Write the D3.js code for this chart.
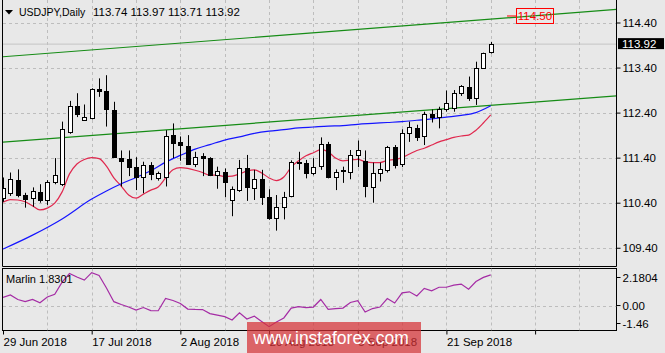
<!DOCTYPE html>
<html>
<head>
<meta charset="utf-8">
<script src="https://cdn.jsdelivr.net/npm/d3@7"></script>
<style>
body { margin: 0; background: #e8e8e8; }
svg { display: block; font-family: "Liberation Sans", Arial, sans-serif; }
</style>
</head>
<body>
<svg id="chart" width="665" height="353"></svg>
<script>
var symbol = 'USDJPY,Daily';
var lastQuote = [113.74, 113.97, 113.71, 113.92];

// daily bars, 29 Jun 2018 .. 1 Oct 2018
var opens  = [110.51,110.62,110.90,110.57,110.50,110.64,110.46,110.85,110.82,111.98,112.55,112.23,112.28,112.92,112.89,112.46,111.39,111.37,111.20,110.96,111.24,110.94,110.96,111.90,111.74,111.66,111.25,111.44,111.39,111.01,111.09,110.46,110.68,111.16,110.72,110.92,110.52,110.05,110.30,110.55,111.28,111.29,111.07,111.21,111.70,110.98,111.10,111.09,111.46,111.32,110.74,111.07,111.13,111.64,111.26,111.94,112.05,111.88,112.37,112.30,112.47,112.50,112.83,112.96,112.72,113.38,113.74];
var highs  = [110.96,111.07,111.14,110.62,110.74,110.81,110.90,111.39,112.20,112.66,112.83,112.58,112.94,113.16,113.23,112.64,111.56,111.56,111.41,111.31,111.30,111.09,112.01,112.16,111.87,111.90,111.53,111.50,111.41,111.20,111.16,110.76,111.35,111.46,111.13,111.13,110.70,110.57,110.64,111.34,111.53,111.35,111.39,111.85,111.75,111.14,111.20,111.57,111.78,111.56,111.29,111.29,111.66,111.68,112.03,112.20,112.13,112.42,112.47,112.53,112.89,112.90,113.01,113.20,113.53,113.73,113.97];
var lows   = [110.42,110.55,110.52,110.29,110.31,110.40,110.35,110.81,110.77,111.93,112.30,112.22,112.25,112.75,112.09,111.41,110.76,110.99,110.68,110.61,110.90,110.89,110.76,111.39,111.33,111.24,111.19,110.99,110.99,110.71,110.52,110.10,110.64,110.44,110.46,110.35,110.02,109.78,110.03,110.52,111.13,110.94,111.01,111.13,110.94,110.68,110.84,110.92,111.19,110.52,110.40,110.87,111.07,111.16,111.19,111.75,111.77,111.68,112.18,112.05,112.42,112.42,112.77,112.66,112.57,113.37,113.71];
var closes = [110.73,110.92,110.57,110.48,110.67,110.46,110.87,111.01,112.03,112.55,112.37,112.31,112.92,112.88,112.47,111.42,111.33,111.19,110.98,111.24,111.04,111.05,111.88,111.73,111.67,111.27,111.41,111.39,111.01,111.10,110.87,110.71,111.16,110.74,110.92,110.52,110.05,110.31,110.53,111.31,111.30,111.07,111.20,111.70,110.98,111.09,111.12,111.46,111.56,110.76,111.07,111.14,111.64,111.24,111.95,112.09,111.85,112.37,112.30,112.48,112.61,112.84,112.99,112.73,113.40,113.73,113.92];

// red moving average, one value per bar
var redMA = [110.41,110.47,110.46,110.42,110.33,110.24,110.28,110.39,110.64,111.04,111.26,111.36,111.40,111.38,111.21,110.95,110.77,110.57,110.50,110.59,110.68,110.75,110.95,111.13,111.18,111.16,111.12,111.07,111.01,111.01,110.98,110.99,111.04,111.10,111.13,111.06,110.95,110.89,110.97,111.19,111.33,111.44,111.51,111.58,111.53,111.39,111.33,111.35,111.36,111.31,111.29,111.29,111.34,111.36,111.40,111.48,111.56,111.61,111.68,111.75,111.80,111.85,111.88,111.90,112.01,112.17,112.35];

// blue moving average, read at these bars
var blueBars = [0,4,8,12,14,16,18,20,22,24,26,28,30,32,34,36,38,40,42,44,46,48,50,52,54,56,58,60,62,64,66];
var blueMA   = [109.37,109.68,110.04,110.48,110.66,110.82,110.96,111.11,111.30,111.45,111.59,111.69,111.79,111.86,111.94,111.99,112.02,112.06,112.08,112.10,112.11,112.14,112.16,112.18,112.20,112.23,112.26,112.30,112.34,112.40,112.55];

// Marlin oscillator, one value per bar
var marlin = [0.49,0.63,0.36,0.23,0.37,0.17,0.51,0.67,1.40,1.91,1.70,1.52,1.96,1.79,1.05,0.23,0.06,-0.09,-0.27,-0.12,-0.30,-0.31,0.42,0.30,0.12,-0.21,-0.23,-0.24,-0.48,-0.57,-0.66,-0.86,-0.43,-0.80,-0.63,-0.95,-1.26,-0.98,-0.74,-0.15,-0.07,-0.12,-0.09,0.36,-0.23,-0.19,-0.15,0.18,0.29,-0.39,-0.18,-0.09,0.42,0.15,0.76,0.82,0.57,1.02,0.88,1.09,1.09,1.22,1.28,0.97,1.43,1.68,1.8301];

// trend lines as [bar, price]
var upperTrend = [[0, 113.64], [83, 114.69]];
var lowerTrend = [[0, 111.745], [83, 112.77]];
var targetLevel = 114.50;

var priceTicks = [109.4, 110.4, 111.4, 112.4, 113.4, 114.4];
var marlinTicks = [2.1804, 0, -1.46];
var marlinTickLabels = ['2.1804', '0.00', '-1.46'];
var dateTickBars = [0, 12, 24, 36, 48, 60, 72];
var dateLabels = ['29 Jun 2018', '17 Jul 2018', '2 Aug 2018', '20 Aug 2018', '5 Sep 2018', '21 Sep 2018'];

var plotL = 3, plotR = 616.5;
var mainT = 0, mainB = 266.5;
var subT = 268.5, subB = 330.5;

var svg = d3.select('#chart');
var x = d3.scaleLinear().domain([0, 83]).range([3, 616.4]);
var y = d3.scaleLinear().domain([109.4, 114.4]).range([247.75, 22.5]);
var ym = d3.scaleLinear().domain([-1.46, 2.1804]).range([subB - 0.5, subT + 0.5]);

svg.append('rect').attr('width', 665).attr('height', 353).attr('fill', '#e8e8e8');

var defs = svg.append('defs');
defs.append('clipPath').attr('id', 'clipMain')
    .append('rect').attr('x', plotL).attr('y', mainT).attr('width', plotR - plotL).attr('height', mainB - mainT);
defs.append('clipPath').attr('id', 'clipSub')
    .append('rect').attr('x', plotL).attr('y', subT).attr('width', plotR - plotL).attr('height', subB - subT);

var gridColor = '#bdbdbd';
var vgrid = d3.range(6, 83, 6);

// main panel grid
var main = svg.append('g').attr('clip-path', 'url(#clipMain)');
main.selectAll('line.hg').data(priceTicks).enter().append('line')
    .attr('x1', plotL).attr('x2', plotR)
    .attr('y1', d => Math.round(y(d)) + 0.5).attr('y2', d => Math.round(y(d)) + 0.5)
    .attr('stroke', gridColor).attr('stroke-dasharray', '3,3');
main.selectAll('line.vg').data(vgrid).enter().append('line')
    .attr('x1', d => Math.round(x(d)) + 0.5).attr('x2', d => Math.round(x(d)) + 0.5)
    .attr('y1', mainT).attr('y2', mainB)
    .attr('stroke', gridColor).attr('stroke-dasharray', '3,3');

// bid line
main.append('line')
    .attr('x1', plotL).attr('x2', plotR)
    .attr('y1', y(lastQuote[3])).attr('y2', y(lastQuote[3]))
    .attr('stroke', '#c4c4c4').attr('stroke-width', 1);

// trend lines
var trend = d3.line().x(d => x(d[0])).y(d => y(d[1]));
[upperTrend, lowerTrend].forEach(function (t) {
    main.append('path').attr('d', trend(t))
        .attr('fill', 'none').attr('stroke', '#168c16').attr('stroke-width', 1.2);
});

// moving averages
var redLine = d3.line().x((d, i) => x(i)).y(d => y(d)).curve(d3.curveMonotoneX);
main.append('path').attr('d', redLine(redMA))
    .attr('fill', 'none').attr('stroke', '#e0284e').attr('stroke-width', 1.2);

var blueLine = d3.line().x((d, i) => x(blueBars[i])).y(d => y(d)).curve(d3.curveMonotoneX);
main.append('path').attr('d', blueLine(blueMA))
    .attr('fill', 'none').attr('stroke', '#1515ff').attr('stroke-width', 1.2);

// candles
var bars = closes.map(function (c, i) {
    return { i: i, o: opens[i], h: highs[i], l: lows[i], c: c };
});
var candle = main.selectAll('g.candle').data(bars).enter().append('g');
candle.append('line')
    .attr('x1', d => Math.round(x(d.i)) + 0.5).attr('x2', d => Math.round(x(d.i)) + 0.5)
    .attr('y1', d => y(d.h)).attr('y2', d => y(d.l))
    .attr('stroke', '#000');
candle.append('rect')
    .attr('x', d => Math.round(x(d.i)) - 1.5)
    .attr('width', 4)
    .attr('y', d => Math.round(y(Math.max(d.o, d.c))) + 0.5)
    .attr('height', d => Math.max(0.01, Math.round(y(Math.min(d.o, d.c))) - Math.round(y(Math.max(d.o, d.c)))))
    .attr('fill', d => d.c >= d.o ? '#fff' : '#000')
    .attr('stroke', '#000');

// target level marker
var yT = y(targetLevel);
svg.append('line').attr('x1', 507).attr('x2', 516).attr('y1', yT - 2).attr('y2', yT - 2)
    .attr('stroke', '#f00');
svg.append('rect').attr('x', 516.5).attr('y', yT - 9.5).attr('width', 37).attr('height', 15)
    .attr('fill', 'none').attr('stroke', '#f00');
svg.append('text').attr('x', 535).attr('y', yT + 2)
    .attr('text-anchor', 'middle').attr('font-size', '11.5px').attr('fill', '#f00')
    .text(targetLevel.toFixed(2));

// borders
var border = svg.append('g').attr('stroke', '#000').attr('fill', 'none');
border.append('path').attr('d', 'M2.5,0V' + mainB + 'H' + plotR + 'V0');
border.append('rect').attr('x', 2.5).attr('y', subT).attr('width', plotR - 2.5).attr('height', subB - subT);

// price axis
var yAxis = svg.append('g').attr('transform', 'translate(' + plotR + ',0)')
    .call(d3.axisRight(y).tickValues(priceTicks).tickFormat(d3.format('.2f')).tickSize(4).tickPadding(2));
yAxis.select('.domain').remove();
yAxis.selectAll('text').attr('font-size', '11.5px').attr('font-family', '"Liberation Sans", Arial, sans-serif').attr('fill', '#000');

// current price label
var yq = y(lastQuote[3]);
svg.append('rect').attr('x', 618).attr('y', yq - 6).attr('width', 46).attr('height', 11).attr('fill', '#000');
svg.append('text').attr('x', 622).attr('y', yq + 4).attr('font-size', '11.5px').attr('fill', '#fff')
    .text(lastQuote[3].toFixed(2));

// header
svg.append('path').attr('d', 'M5,10H13L9,14.5Z').attr('fill', '#000');
svg.append('text').attr('x', 19).attr('y', 16).attr('font-size', '10.5px').text(symbol);
svg.append('text').attr('x', 93).attr('y', 16).attr('font-size', '11.5px')
    .text(lastQuote.map(d => d.toFixed(2)).join(' '));

// Marlin subwindow
var sub = svg.append('g').attr('clip-path', 'url(#clipSub)');
sub.selectAll('line.vg').data(vgrid).enter().append('line')
    .attr('x1', d => Math.round(x(d)) + 0.5).attr('x2', d => Math.round(x(d)) + 0.5)
    .attr('y1', subT).attr('y2', subB)
    .attr('stroke', gridColor).attr('stroke-dasharray', '3,3');
sub.append('line').attr('x1', plotL).attr('x2', plotR)
    .attr('y1', Math.round(ym(0)) + 0.5).attr('y2', Math.round(ym(0)) + 0.5)
    .attr('stroke', gridColor).attr('stroke-dasharray', '3,3');
var marlinLine = d3.line().x((d, i) => x(i)).y(d => ym(d));
sub.append('path').attr('d', marlinLine(marlin))
    .attr('fill', 'none').attr('stroke', '#a52ca5').attr('stroke-width', 1.2);
svg.append('text').attr('x', 6).attr('y', 283).attr('font-size', '11px')
    .text('Marlin ' + marlin[marlin.length - 1].toFixed(4));

var mAxis = svg.append('g').attr('transform', 'translate(' + plotR + ',0)');
marlinTicks.forEach(function (v, k) {
    var yy = Math.min(Math.max(ym(v), subT + 9), subB - 7);
    mAxis.append('line').attr('x1', 0).attr('x2', 4).attr('y1', yy).attr('y2', yy).attr('stroke', '#000');
    mAxis.append('text').attr('x', 6).attr('y', yy + 4).attr('font-size', '11.5px').text(marlinTickLabels[k]);
});

// date axis
var xAxis = svg.append('g').attr('transform', 'translate(0,' + subB + ')')
    .call(d3.axisBottom(x).tickValues(dateTickBars).tickSize(4)
        .tickFormat((d, k) => dateLabels[k] || ''));
xAxis.select('.domain').remove();
xAxis.selectAll('text').attr('text-anchor', 'start').attr('dy', null).attr('y', 15)
    .attr('font-size', '11.5px').attr('font-family', '"Liberation Sans", Arial, sans-serif').attr('fill', '#000');

// watermark
svg.append('rect').attr('x', 247).attr('y', 322).attr('width', 174).attr('height', 31)
    .attr('fill', 'rgb(214,48,52)').attr('fill-opacity', 0.72);
svg.append('text').attr('x', 331).attr('y', 344).attr('text-anchor', 'middle')
    .attr('font-size', '17.5px').attr('fill', '#fff').text('www.instaforex.com');
</script>
</body>
</html>
